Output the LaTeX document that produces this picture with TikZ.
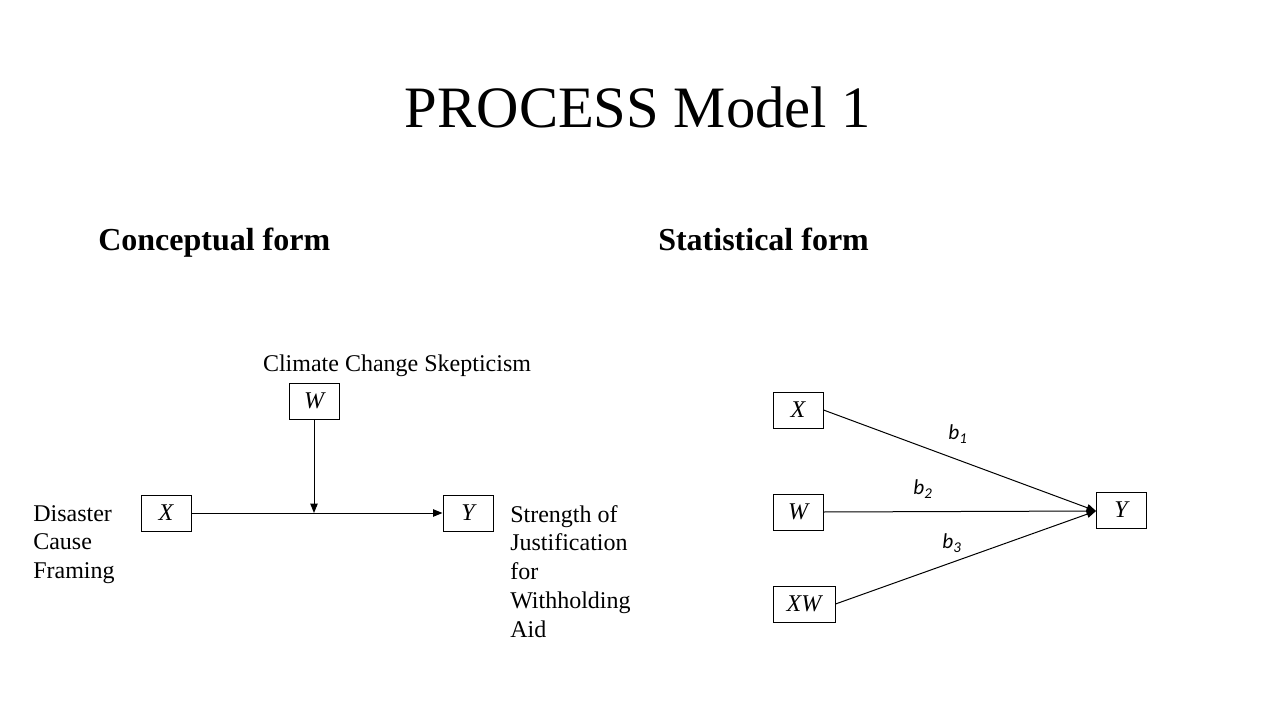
\documentclass[tikz,border=0pt]{standalone}
\usepackage{fontspec}
\setmainfont{Liberation Serif}
\newfontfamily\coeffont{Carlito}
\usepackage{tikz}
\usetikzlibrary{calc, arrows.meta}

\tikzset{
  var/.style={draw, line width=0.75pt, minimum width=37.5pt, minimum height=27pt,
    inner sep=0pt, font=\fontsize{18}{21.6}\selectfont\itshape},
  lbl/.style={inner sep=0pt, align=left, font=\fontsize{18}{21.6}\selectfont},
  heading/.style={inner sep=0pt, anchor=base west, font=\fontsize{24}{28}\selectfont\bfseries},
  coef/.style={inner sep=0pt, font=\fontsize{16}{19}\selectfont\coeffont\itshape},
  path/.style={-{Triangle[length=7pt, width=5.5pt]}, line width=0.75pt}
}

\begin{document}
\begin{tikzpicture}[x=0.75pt, y=-0.75pt]
  \fill[white] (0,0) rectangle (1280,720);
  \useasboundingbox (0,0) rectangle (1280,720);

  % Title and headings
  \node[inner sep=0pt, anchor=base, font=\fontsize{44}{52}\selectfont] (title) at (638,128) {PROCESS Model 1};
  \node[heading] (conc) at (98,250) {Conceptual form};
  \node[heading] (stat) at (658,250) {Statistical form};

  % Conceptual form
  \node[var] (cW) at (314,401) {W};
  \node[var] (cX) at (166,513) {X};
  \node[var] (cY) at (468,513) {Y};
  \node[lbl, anchor=base] (cWlbl) at (397,371) {Climate Change Skepticism};
  \node[lbl, anchor=north west] (cXlbl) at (33,505) {Disaster\\Cause\\Framing};
  \node[lbl, anchor=north west] (cYlbl) at (510,505) {Strength of\\Justification\\for\\Withholding\\Aid};

  \draw[path] (cX) -- (cY);
  \coordinate (meet) at (cW |- cX);
  \draw[path] (cW) -- (meet);

  % Statistical form
  \node[var] (sX) at (798,410) {X};
  \node[var] (sW) at (798,512) {W};
  \node[var, minimum width=46.5pt] (sXW) at (804,604) {XW};
  \node[var] (sY) at (1121,510) {Y};
  \coordinate (tip) at (1096,511);

  \draw[path] (sX.east) -- (tip);
  \draw[path] (sW.east) -- (tip);
  \draw[path] (sXW.east) -- (tip);

  \node[coef] (b1) at (958,434) {b\textsubscript{1}};
  \node[coef] (b2) at (923,489) {b\textsubscript{2}};
  \node[coef] (b3) at (952,543) {b\textsubscript{3}};
\end{tikzpicture}
\end{document}
